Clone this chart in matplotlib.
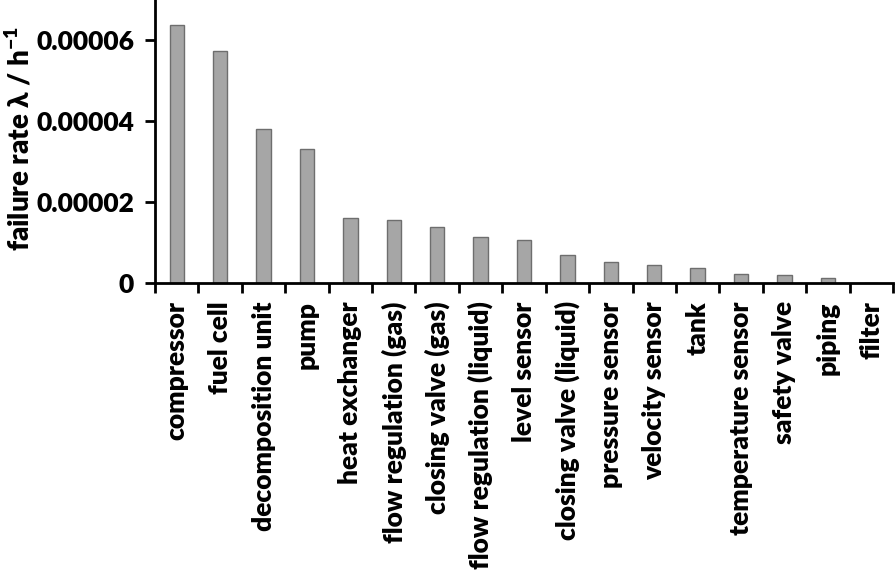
import matplotlib
matplotlib.use("Agg")
import matplotlib.pyplot as plt
import numpy as np

categories = ["compressor", "fuel cell", "decomposition unit", "pump", "heat exchanger",
              "flow regulation (gas)", "closing valve (gas)", "flow regulation (liquid)",
              "level sensor", "closing valve (liquid)", "pressure sensor", "velocity sensor",
              "tank", "temperature sensor", "safety valve", "piping", "filter"]
failure_rate = [6.38e-5, 5.73e-5, 3.81e-5, 3.32e-5, 1.62e-5, 1.56e-5, 1.39e-5, 1.15e-5,
                1.07e-5, 7.0e-6, 5.3e-6, 4.6e-6, 3.8e-6, 2.3e-6, 2.0e-6, 1.3e-6, 0.0]
yticks = [0, 0.00002, 0.00004, 0.00006]
ytick_labels = ["0", "0.00002", "0.00004", "0.00006"]

W = 800
plt.rcParams['font.family'] = ['Lato', 'DejaVu Sans']
plt.rcParams['font.weight'] = W
plt.rcParams['mathtext.default'] = 'regular'

fig = plt.figure(figsize=(8.96, 5.70), dpi=100)
ax = fig.add_axes([155/896, 1 - 283.3/570, 738/896, 283.3/570])

x = np.arange(len(categories))
ax.bar(x, failure_rate, width=0.33, color="#a6a6a6", edgecolor="#6e6e6e", linewidth=1.0)

ax.set_xlim(-0.5, len(categories) - 0.5)
ax.set_ylim(0, 7e-5)

ax.set_yticks(yticks)
ax.set_yticklabels(ytick_labels, fontsize=19, fontweight=W)
ax.set_xticks(x)
ax.set_xticklabels(categories, rotation=90, fontsize=19, fontweight=W)
ax.set_xticks(np.arange(-0.5, len(categories)), minor=True)
ax.tick_params(axis='x', which='major', length=0, pad=13)
ax.tick_params(axis='x', which='minor', length=7, width=2, direction='out')
ax.tick_params(axis='y', which='major', length=7, width=2, direction='out', pad=8)

for s in ['top', 'right']:
    ax.spines[s].set_visible(False)
for s in ['left', 'bottom']:
    ax.spines[s].set_linewidth(2)
    ax.spines[s].set_color('black')

ax.set_ylabel("failure rate λ / h$^{-1}$", fontsize=20, fontweight=W)
ax.yaxis.set_label_coords(-0.163, 0.51)

fig.savefig("out.png", dpi=100)
